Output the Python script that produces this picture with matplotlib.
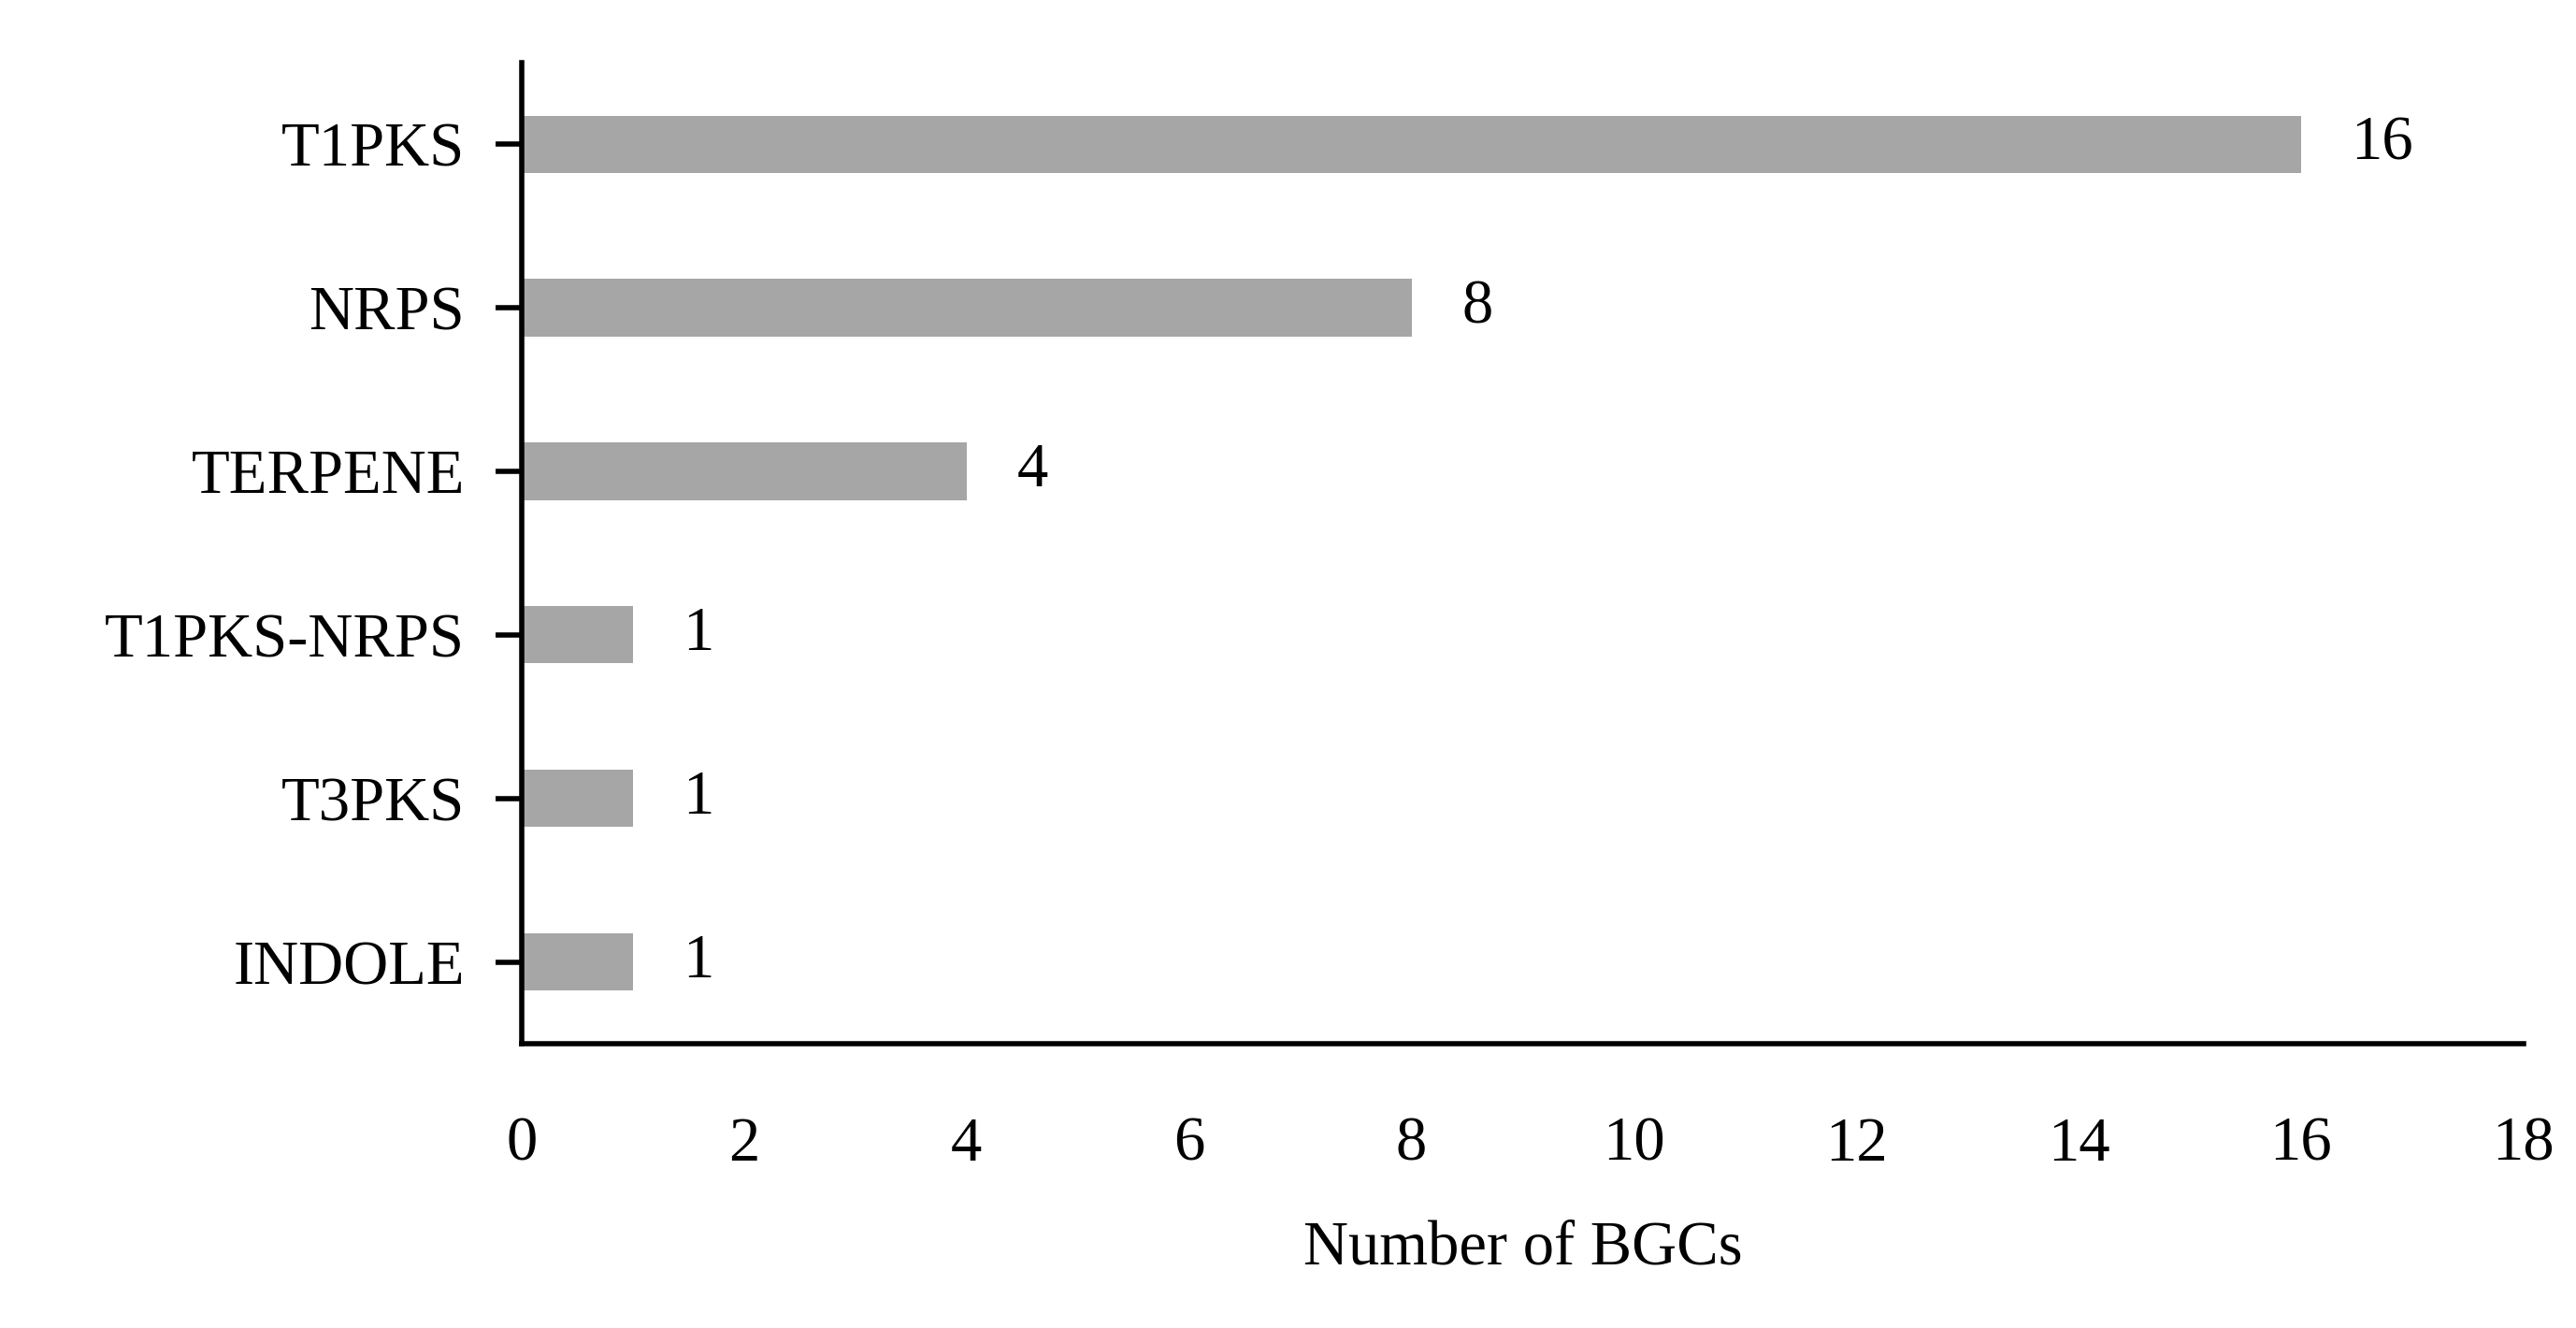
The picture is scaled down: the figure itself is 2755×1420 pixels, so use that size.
import matplotlib.pyplot as plt

plt.rcParams['font.family'] = ['Liberation Serif', 'DejaVu Serif']

categories = ['T1PKS', 'NRPS', 'TERPENE', 'T1PKS-NRPS', 'T3PKS', 'INDOLE']
counts = [16, 8, 4, 1, 1, 1]
xticks = [0, 2, 4, 6, 8, 10, 12, 14, 16, 18]

fig = plt.figure(figsize=(13.775, 7.1), dpi=200)
ax = fig.add_axes([0.2026, 0.214, 0.777, 0.739])

pos = list(range(len(categories)))
ax.barh(pos, counts, height=0.35, color='#a6a6a6')
for p, c in zip(pos, counts):
    ax.text(c + 0.45, p, str(c), va='center', ha='left', fontsize=24)

ax.set_ylim(len(categories) - 0.5, -0.5)
ax.set_xlim(0, 18)
ax.set_yticks(pos)
ax.set_yticklabels(categories, fontsize=24)
ax.set_xticks(xticks)
ax.set_xticklabels([str(t) for t in xticks], fontsize=24)
ax.tick_params(axis='x', length=0, pad=28)
ax.tick_params(axis='y', length=10, width=2, pad=12)
ax.spines['top'].set_visible(False)
ax.spines['right'].set_visible(False)
ax.spines['left'].set_linewidth(2)
ax.spines['bottom'].set_linewidth(2)
ax.set_xlabel('Number of BGCs', fontsize=24, labelpad=18)

fig.savefig('out.png', dpi=200)
